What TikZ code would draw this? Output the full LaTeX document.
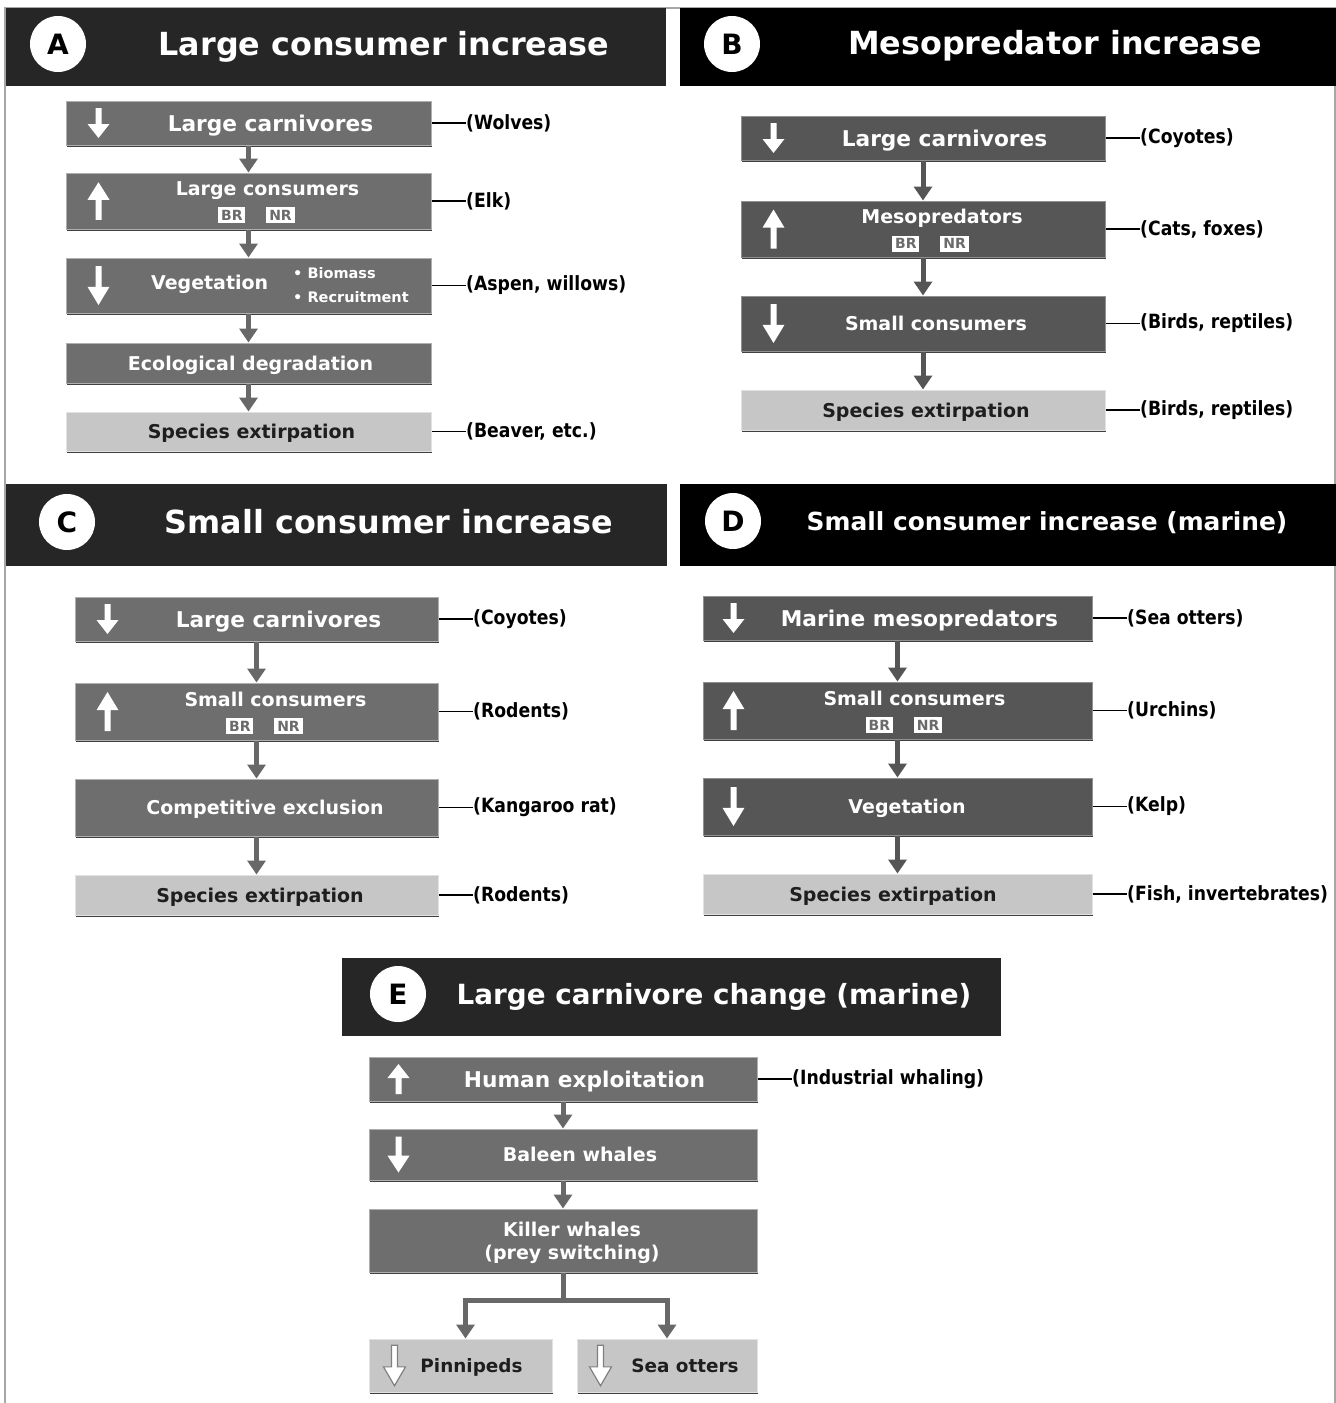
\documentclass[tikz,border=0pt]{standalone}
\usepackage{fontspec}
\setmainfont{DejaVu Sans}
\newfontfamily\labfont[FakeStretch=0.88]{DejaVu Sans}
\usetikzlibrary{positioning,calc,shadows,arrows.meta}
\definecolor{hdrgray}{HTML}{262626}
\definecolor{boxA}{HTML}{6E6E6E}
\definecolor{boxB}{HTML}{565656}
\definecolor{linkA}{HTML}{686868}
\definecolor{linkB}{HTML}{555555}
\definecolor{pale}{HTML}{C6C6C6}
\definecolor{ink}{HTML}{1E1E1E}
\newcommand{\tagsq}[1]{{\setlength{\fboxsep}{1.4pt}\colorbox{white}{\textcolor{black!58}{\fontsize{7}{7}\selectfont#1}}}}
\newcommand{\brnr}{\tagsq{BR}\hspace{10.5pt}\tagsq{NR}}

\begin{document}
\begin{tikzpicture}[
x=0.5pt, y=-0.5pt,
frame/.style={draw=black!35, line width=1pt},
hdr/.style={rectangle, fill=hdrgray, inner sep=0pt},
hdrk/.style={rectangle, fill=black, inner sep=0pt},
disc/.style={circle, fill=white, minimum size=28pt, inner sep=0pt,
  font=\bfseries\fontsize{14}{16}\selectfont},
ttl/.style={text=white, inner sep=0pt, text depth=0pt, font=\bfseries\fontsize{15.9}{18}\selectfont},
box/.style={
  rectangle,
  inner sep=0pt,
  align=center,
  text depth=0pt,
  fill=boxA,
  text=white,
  draw=white!45!boxA,
  line width=0.5pt,
  drop shadow={shadow xshift=0.7pt, shadow yshift=-1.1pt, fill=black, opacity=0.75},
  font=\bfseries\fontsize{9.5}{11.5}\selectfont
  },
darkbox/.style={box, fill=boxB, draw=white!35!boxB},
palebox/.style={box, fill=pale, text=ink, draw=white!50!pale},
big/.style={font=\bfseries\fontsize{10.85}{13}\selectfont},
aw/.style={minimum width=182.5pt},
bw/.style={minimum width=182pt},
cw/.style={minimum width=181.5pt},
dw/.style={minimum width=194.5pt},
ew/.style={minimum width=194pt},
link/.style={draw=linkA, line width=2.5pt, -{Triangle[width=9pt,length=7pt]}},
linkd/.style={link, draw=linkB},
stem/.style={draw=linkA, line width=2.5pt},
tie/.style={draw=black, line width=0.7pt},
lab/.style={anchor=west, inner sep=0pt, text=black,
  font=\labfont\bfseries\fontsize{9.8}{11}\selectfont},
wicon/.style={fill=white},
oicon/.style={fill=white, draw=black!50, line width=0.6pt},
dnicon/.pic={
  \path[pic actions] (-3,-15) -- (3,-15) -- (3,1) -- (11,1) -- (0,15) -- (-11,1) -- (-3,1) -- cycle;
  }
]
\useasboundingbox (0,0) rectangle (1336,1403);
\draw[frame] (5,1403) -- (5,8) -- (1335,8) -- (1335,1403);

% A: large consumer increase
\node[hdr, minimum width=330pt, minimum height=39pt] (ahd) at (336,47) {};
\node[disc] (acirc) at (58,44) {A};
\node[ttl] (attl) at (384,43) {Large consumer increase};
\node[box, big, aw, minimum height=22pt] (a1) at (248.5,123) {\hspace*{22pt}Large carnivores};
\node[box, aw, minimum height=28pt] (a2) at (248.5,201) {\hspace*{19pt}Large consumers\\[1pt]\hspace*{8pt}\brnr};
\node[box, aw, minimum height=27.5pt, text depth={}] (a3) at (248.5,285.5) {\hspace*{31.4pt}Vegetation\hspace{12.5pt}{\fontsize{7.25}{12}\selectfont\begin{tabular}{@{}l@{}}\textbullet\ Biomass\\ \textbullet\ Recruitment\end{tabular}}};
\node[box, aw, minimum height=20pt] (a4) at (248.5,363) {\hspace*{2pt}Ecological degradation};
\node[palebox, aw, minimum height=19.5pt] (a5) at (248.5,431.5) {\hspace*{3pt}Species extirpation};
\pic[wicon] at ([xshift=16.5pt]a1.west) {dnicon};
\pic[wicon, rotate=180, yscale=1.25] at ([xshift=16.5pt]a2.west) {dnicon};
\pic[wicon, yscale=1.3] at ([xshift=16.5pt]a3.west) {dnicon};
\draw[link] (a1) -- (a2);
\draw[link] (a2) -- (a3);
\draw[link] (a3) -- (a4);
\draw[link] (a4) -- (a5);
\draw[tie] (a1.east) -- ++(34,0) node[lab] (a1l) {(Wolves)};
\draw[tie] (a2.east) -- ++(34,0) node[lab] (a2l) {(Elk)};
\draw[tie] (a3.east) -- ++(34,0) node[lab] (a3l) {(Aspen, willows)};
\draw[tie] (a5.east) -- ++(34,0) node[lab] (a5l) {(Beaver, etc.)};

% B: mesopredator increase
\node[hdrk, minimum width=328pt, minimum height=39pt] (bhd) at (1008,47) {};
\node[disc] (bcirc) at (732,44) {B};
\node[ttl] (bttl) at (1055,42) {Mesopredator increase};
\node[darkbox, big, bw, minimum height=22pt] (b1) at (923,138) {\hspace*{21.5pt}Large carnivores};
\node[darkbox, bw, minimum height=28pt] (b2) at (923,229) {\hspace*{19pt}Mesopredators\\[1pt]\hspace*{7.5pt}\brnr};
\node[darkbox, bw, minimum height=27.5pt] (b3) at (923,323.5) {\hspace*{13pt}Small consumers};
\node[palebox, bw, minimum height=20pt] (b4) at (923,410) {\hspace*{3pt}Species extirpation};
\pic[wicon] at ([xshift=16.5pt]b1.west) {dnicon};
\pic[wicon, rotate=180, yscale=1.3] at ([xshift=16.5pt]b2.west) {dnicon};
\pic[wicon, yscale=1.3] at ([xshift=16.5pt]b3.west) {dnicon};
\draw[linkd] (b1) -- (b2);
\draw[linkd] (b2) -- (b3);
\draw[linkd] (b3) -- (b4);
\draw[tie] (b1.east) -- ++(34,0) node[lab] (b1l) {(Coyotes)};
\draw[tie] (b2.east) -- ++(34,0) node[lab] (b2l) {(Cats, foxes)};
\draw[tie] (b3.east) -- ++(34,0) node[lab] (b3l) {(Birds, reptiles)};
\draw[tie] (b4.east) -- ++(34,0) node[lab] (b4l) {(Birds, reptiles)};

% C: small consumer increase
\node[hdr, minimum width=330.5pt, minimum height=41pt] (chd) at (336.5,525) {};
\node[disc] (ccirc) at (67,522) {C};
\node[ttl] (cttl) at (389,521) {Small consumer increase};
\node[box, big, cw, minimum height=22pt] (c1) at (256.5,619) {\hspace*{22pt}Large carnivores};
\node[box, cw, minimum height=28.5pt] (c2) at (256.5,711.5) {\hspace*{19pt}Small consumers\\[1pt]\hspace*{8pt}\brnr};
\node[box, cw, minimum height=28.5pt] (c3) at (256.5,807.5) {\hspace*{8.5pt}Competitive exclusion};
\node[palebox, cw, minimum height=20pt] (c4) at (256.5,895) {\hspace*{3.5pt}Species extirpation};
\pic[wicon] at ([xshift=16.5pt]c1.west) {dnicon};
\pic[wicon, rotate=180, yscale=1.3] at ([xshift=16.5pt]c2.west) {dnicon};
\draw[link] (c1) -- (c2);
\draw[link] (c2) -- (c3);
\draw[link] (c3) -- (c4);
\draw[tie] (c1.east) -- ++(34,0) node[lab] (c1l) {(Coyotes)};
\draw[tie] (c2.east) -- ++(34,0) node[lab] (c2l) {(Rodents)};
\draw[tie] (c3.east) -- ++(34,0) node[lab] (c3l) {(Kangaroo rat)};
\draw[tie] (c4.east) -- ++(34,0) node[lab] (c4l) {(Rodents)};

% D: small consumer increase (marine)
\node[hdrk, minimum width=328pt, minimum height=41pt] (dhd) at (1008,525) {};
\node[disc] (dcirc) at (733,521) {D};
\node[ttl, font=\bfseries\fontsize{12.45}{15}\selectfont] (dttl) at (1047,521) {Small consumer increase (marine)};
\node[darkbox, big, dw, minimum height=22pt] (d1) at (897.5,618) {\hspace*{22pt}Marine mesopredators};
\node[darkbox, dw, minimum height=28.5pt] (d2) at (897.5,710.5) {\hspace*{17pt}Small consumers\\[1pt]\hspace*{6.5pt}\brnr};
\node[darkbox, dw, minimum height=28.5pt] (d3) at (897.5,806.5) {\hspace*{9.5pt}Vegetation};
\node[palebox, dw, minimum height=20pt] (d4) at (897.5,894) {\hspace*{-4.5pt}Species extirpation};
\pic[wicon] at ([xshift=15.5pt]d1.west) {dnicon};
\pic[wicon, rotate=180, yscale=1.3] at ([xshift=15.5pt]d2.west) {dnicon};
\pic[wicon, yscale=1.3] at ([xshift=15.5pt]d3.west) {dnicon};
\draw[linkd] (d1) -- (d2);
\draw[linkd] (d2) -- (d3);
\draw[linkd] (d3) -- (d4);
\draw[tie] (d1.east) -- ++(34,0) node[lab] (d1l) {(Sea otters)};
\draw[tie] (d2.east) -- ++(34,0) node[lab] (d2l) {(Urchins)};
\draw[tie] (d3.east) -- ++(34,0) node[lab] (d3l) {(Kelp)};
\draw[tie] (d4.east) -- ++(34,0) node[lab] (d4l) {(Fish, invertebrates)};

% E: large carnivore change (marine)
\node[hdr, minimum width=329.5pt, minimum height=39pt] (ehd) at (671.5,997) {};
\node[disc] (ecirc) at (398,994) {E};
\node[ttl, font=\bfseries\fontsize{13.9}{16}\selectfont] (ettl) at (714,994) {Large carnivore change (marine)};
\node[box, big, ew, minimum height=22pt] (e1) at (563,1079) {\hspace*{21.5pt}Human exploitation};
\node[box, ew, minimum height=25.5pt] (e2) at (563,1154.5) {\hspace*{17pt}Baleen whales};
\node[box, ew, minimum height=31.5pt] (e3) at (563,1240.5) {\hspace*{9pt}Killer whales\\\hspace*{9pt}(prey switching)};
\node[palebox, minimum width=91.5pt, minimum height=26.5pt, font=\bfseries\fontsize{9.2}{11}\selectfont] (e4) at (460.5,1365.5) {\hspace*{11pt}Pinnipeds};
\node[palebox, minimum width=90pt, minimum height=26.5pt, font=\bfseries\fontsize{9.2}{11}\selectfont] (e5) at (667,1365.5) {\hspace*{18pt}Sea otters};
\pic[wicon, rotate=180] at ([xshift=15pt]e1.west) {dnicon};
\pic[wicon, yscale=1.2] at ([xshift=15pt]e2.west) {dnicon};
\pic[oicon, yscale=1.35] at ([xshift=13pt]e4.west) {dnicon};
\pic[oicon, yscale=1.35] at ([xshift=12pt]e5.west) {dnicon};
\draw[link] (e1) -- (e2);
\draw[link] (e2) -- (e3);
\draw[stem] (e3.south) -- ++(0,28) coordinate (ebr);
\draw[link] (ebr) -| ([xshift=2.5pt]e4.north);
\draw[link] (ebr) -| (e5.north);
\draw[tie] (e1.east) -- ++(34,0) node[lab] (e1l) {(Industrial whaling)};
\end{tikzpicture}
\end{document}
